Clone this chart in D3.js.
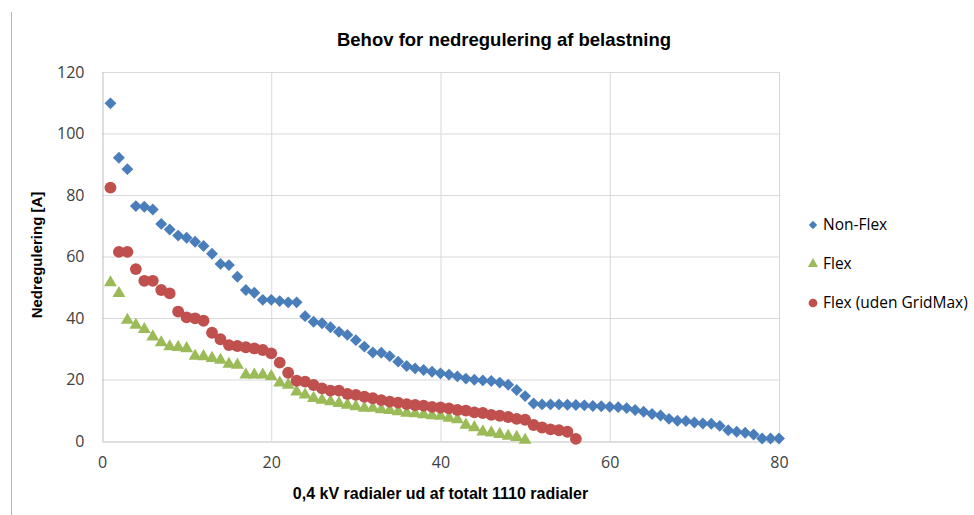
<!DOCTYPE html>
<html>
<head>
<meta charset="utf-8">
<script src="https://cdn.jsdelivr.net/npm/d3@7"></script>
<style>
  body { margin: 0; background: #fff; }
  svg { display: block; font-family: "Liberation Sans", Arial, sans-serif; }
</style>
</head>
<body>
<div id="chart"></div>
<script>
// values, one per radial (x = 1, 2, 3 ...)
const nonFlex = [109.8, 92.1, 88.4, 76.4, 76.2, 75.3, 70.6, 68.8, 66.8, 66.1,
  64.8, 63.4, 60.9, 57.6, 57.2, 53.4, 49.1, 48.2, 45.9, 45.9,
  45.5, 45.1, 45.1, 40.6, 38.8, 38.3, 37.0, 35.5, 34.5, 32.8,
  30.7, 28.8, 28.7, 27.6, 25.8, 24.4, 23.6, 23.1, 22.5, 22.0,
  21.6, 21.0, 20.3, 19.9, 19.7, 19.5, 19.0, 18.3, 16.6, 14.6,
  12.2, 11.9, 11.9, 11.9, 11.8, 11.7, 11.6, 11.4, 11.3, 11.1,
  11.0, 10.7, 10.1, 9.5, 8.8, 8.3, 7.2, 6.6, 6.5, 6.0,
  5.7, 5.6, 4.9, 3.5, 3.0, 2.7, 2.1, 0.8, 0.8, 0.8];
const flex = [51.5, 48.0, 39.3, 37.7, 36.3, 33.9, 32.0, 30.7, 30.5, 30.1,
  27.6, 27.5, 26.9, 26.3, 25.0, 24.7, 21.5, 21.5, 21.5, 21.0,
  18.9, 18.2, 16.0, 15.0, 13.9, 13.3, 12.8, 12.3, 11.7, 11.2,
  10.7, 10.7, 10.2, 10.0, 9.6, 9.1, 8.9, 8.6, 8.3, 8.1,
  7.5, 7.0, 5.2, 4.4, 3.0, 2.7, 2.2, 1.6, 1.2, 0.3];
const flexUden = [82.4, 61.5, 61.5, 55.9, 52.1, 52.1, 49.1, 48.0, 42.1, 40.2,
  39.9, 39.1, 35.2, 33.1, 31.2, 30.9, 30.5, 30.1, 29.6, 28.5,
  25.5, 22.2, 19.6, 19.3, 18.2, 17.1, 16.4, 16.4, 15.3, 15.0,
  14.4, 13.9, 13.3, 12.8, 12.5, 12.0, 11.7, 11.5, 11.1, 10.9,
  10.6, 10.1, 9.9, 9.3, 9.1, 8.5, 8.2, 7.8, 7.2, 6.9,
  5.2, 4.4, 3.8, 3.5, 3.0, 0.7];

const seriesNames = ["Non-Flex", "Flex", "Flex (uden GridMax)"];
const xTicks = [0, 20, 40, 60, 80];
const yTicks = [0, 20, 40, 60, 80, 100, 120];

const title = "Behov for nedregulering af belastning";
const xTitle = "0,4 kV radialer ud af totalt 1110 radialer";
const yTitle = "Nedregulering [A]";

const width = 974, height = 515;
const plot = { left: 102, right: 779, top: 72, bottom: 441 };

const svg = d3.select("#chart").append("svg")
  .attr("width", width)
  .attr("height", height);

// thin frame line on the left edge of the picture
svg.append("line")
  .attr("x1", 11.5).attr("x2", 11.5)
  .attr("y1", 12).attr("y2", height)
  .attr("stroke", "#b4b4b4").attr("stroke-width", 1);

const x = d3.scaleLinear().domain([0, 80]).range([plot.left, plot.right]);
const y = d3.scaleLinear().domain([0, 120]).range([plot.bottom, plot.top]);

// gridlines
svg.append("g")
  .selectAll("line")
  .data(yTicks.slice(1))
  .enter().append("line")
  .attr("x1", plot.left).attr("x2", plot.right)
  .attr("y1", d => y(d) + 0.5).attr("y2", d => y(d) + 0.5)
  .attr("stroke", "#d9d9d9");

svg.append("g")
  .selectAll("line")
  .data(xTicks.slice(1))
  .enter().append("line")
  .attr("y1", plot.top).attr("y2", plot.bottom)
  .attr("x1", d => x(d) + 0.5).attr("x2", d => x(d) + 0.5)
  .attr("stroke", "#d9d9d9");

// axes
const yAxis = svg.append("g")
  .attr("transform", `translate(${plot.left + 0.5},0)`)
  .call(d3.axisLeft(y).tickValues(yTicks).tickSize(0).tickPadding(18));
const xAxis = svg.append("g")
  .attr("transform", `translate(0,${plot.bottom + 0.5})`)
  .call(d3.axisBottom(x).tickValues(xTicks).tickSize(0).tickPadding(15));

[xAxis, yAxis].forEach(ax => {
  ax.select(".domain").attr("stroke", "#bfbfbf");
  ax.selectAll("text")
    .attr("fill", "#404040")
    .style("font-size", "16px")
    .style("font-family", "\"Open Sans\", sans-serif");
});

// marker shapes
const diamond = d3.symbol().type(d3.symbolDiamond2).size(90);
const triangle = d3.symbol().type(d3.symbolTriangle).size(72);
const circle = d3.symbol().type(d3.symbolCircle).size(110);

const series = [
  { name: seriesNames[0], values: nonFlex, color: "#4a7ebb", shape: diamond },
  { name: seriesNames[1], values: flex, color: "#9bbb59", shape: triangle },
  { name: seriesNames[2], values: flexUden, color: "#c0504d", shape: circle }
];

series.forEach(s => {
  svg.append("g")
    .selectAll("path")
    .data(s.values)
    .enter().append("path")
    .attr("d", s.shape)
    .attr("transform", (d, i) => `translate(${x(i + 1)},${y(d)})`)
    .attr("fill", s.color);
});

// titles
svg.append("text")
  .attr("x", 504).attr("y", 46)
  .attr("text-anchor", "middle")
  .style("font-size", "18.5px").style("font-weight", "bold")
  .attr("fill", "#000")
  .text(title);

svg.append("text")
  .attr("x", (plot.left + plot.right) / 2).attr("y", 499)
  .attr("text-anchor", "middle")
  .style("font-size", "16px").style("font-weight", "bold")
  .attr("fill", "#000")
  .text(xTitle);

svg.append("text")
  .attr("transform", "translate(42,255) rotate(-90)")
  .attr("text-anchor", "middle")
  .style("font-size", "15px").style("font-weight", "bold")
  .attr("fill", "#000")
  .text(yTitle);

// legend
const legendY = [225, 264, 303];
const legendShapes = [
  d3.symbol().type(d3.symbolDiamond2).size(45),
  d3.symbol().type(d3.symbolTriangle).size(45),
  d3.symbol().type(d3.symbolCircle).size(60)
];
const legend = svg.append("g");
series.forEach((s, i) => {
  legend.append("path")
    .attr("d", legendShapes[i])
    .attr("transform", `translate(813,${legendY[i]})`)
    .attr("fill", s.color);
  legend.append("text")
    .attr("x", 823).attr("y", legendY[i] + 5)
    .style("font-size", "15.5px")
    .style("font-family", "\"Open Sans\", sans-serif")
    .attr("fill", "#000")
    .text(s.name);
});
</script>
</body>
</html>
